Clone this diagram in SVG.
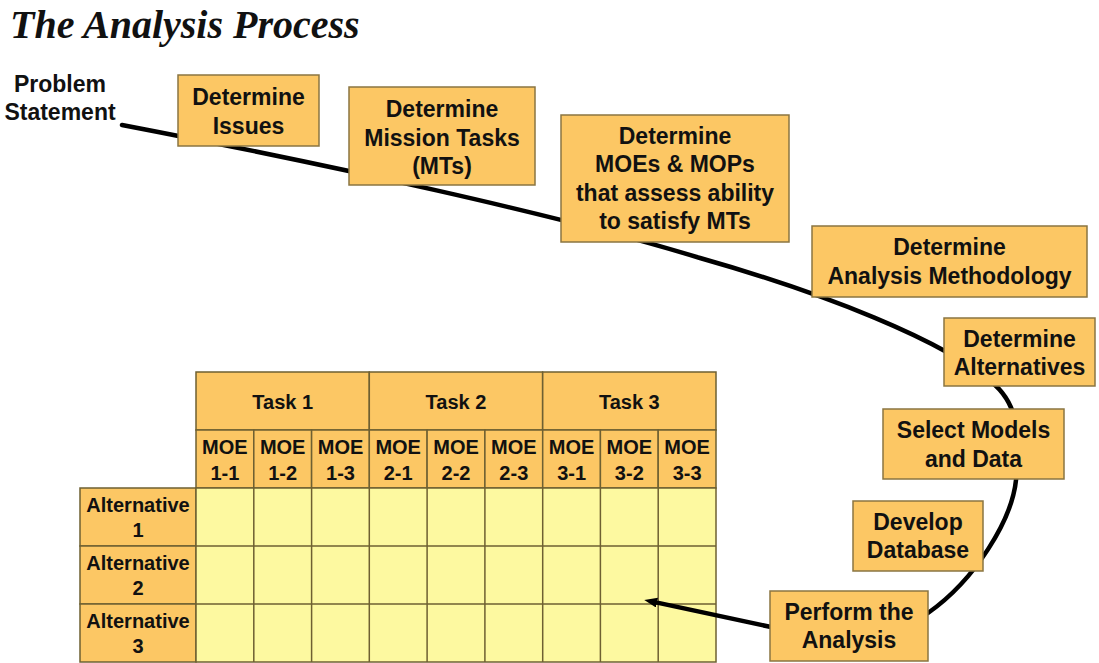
<svg xmlns="http://www.w3.org/2000/svg" width="1099" height="663" viewBox="0 0 1099 663">
<style>
.box{fill:#FCC764;stroke:#8a7542;stroke-width:1.5}
.bt{font-family:"Liberation Sans",Arial,sans-serif;font-weight:bold;font-size:23px;fill:#111;text-anchor:middle}
.hd{fill:#FCC764;stroke:#6e6032;stroke-width:1.5}
.cell{fill:#FDF9A0;stroke:#6e6032;stroke-width:1.5}
.tt{font-family:"Liberation Sans",Arial,sans-serif;font-weight:bold;font-size:20px;fill:#111;text-anchor:middle}
.ln{fill:none;stroke:#000;stroke-width:4.5;stroke-linecap:round}
</style>
<defs>
<marker id="ah" markerWidth="14" markerHeight="11" refX="1" refY="5" orient="auto" markerUnits="userSpaceOnUse">
<path d="M0,0 L13,5 L0,10 Z" fill="#000"/>
</marker>
</defs>
<rect width="1099" height="663" fill="#fff"/>
<text x="10" y="38" font-family="'Liberation Serif','Times New Roman',serif" font-weight="bold" font-style="italic" font-size="40" fill="#111">The Analysis Process</text>
<g id="table">
<rect class="hd" x="196" y="372" width="173.3" height="58"/>
<rect class="hd" x="369.3" y="372" width="173.3" height="58"/>
<rect class="hd" x="542.7" y="372" width="173.3" height="58"/>
<text class="tt" x="282.7" y="409">Task 1</text>
<text class="tt" x="456" y="409">Task 2</text>
<text class="tt" x="629.3" y="409">Task 3</text>
<rect class="hd" x="196" y="430" width="57.8" height="58"/>
<rect class="hd" x="253.8" y="430" width="57.8" height="58"/>
<rect class="hd" x="311.6" y="430" width="57.8" height="58"/>
<rect class="hd" x="369.3" y="430" width="57.8" height="58"/>
<rect class="hd" x="427.1" y="430" width="57.8" height="58"/>
<rect class="hd" x="484.9" y="430" width="57.8" height="58"/>
<rect class="hd" x="542.7" y="430" width="57.8" height="58"/>
<rect class="hd" x="600.4" y="430" width="57.8" height="58"/>
<rect class="hd" x="658.2" y="430" width="57.8" height="58"/>
<g class="tt">
<text x="224.9" y="454">MOE</text><text x="224.9" y="480">1-1</text>
<text x="282.7" y="454">MOE</text><text x="282.7" y="480">1-2</text>
<text x="340.5" y="454">MOE</text><text x="340.5" y="480">1-3</text>
<text x="398.2" y="454">MOE</text><text x="398.2" y="480">2-1</text>
<text x="456" y="454">MOE</text><text x="456" y="480">2-2</text>
<text x="513.8" y="454">MOE</text><text x="513.8" y="480">2-3</text>
<text x="571.6" y="454">MOE</text><text x="571.6" y="480">3-1</text>
<text x="629.3" y="454">MOE</text><text x="629.3" y="480">3-2</text>
<text x="687.1" y="454">MOE</text><text x="687.1" y="480">3-3</text>
</g>
<rect class="hd" x="80" y="488" width="116" height="58"/>
<rect class="hd" x="80" y="546" width="116" height="58"/>
<rect class="hd" x="80" y="604" width="116" height="58"/>
<g class="tt">
<text x="138" y="512">Alternative</text><text x="138" y="537">1</text>
<text x="138" y="570">Alternative</text><text x="138" y="595">2</text>
<text x="138" y="628">Alternative</text><text x="138" y="653">3</text>
</g>
<rect class="cell" x="196" y="488" width="520" height="174"/>
<path d="M253.8,488V662M311.6,488V662M369.3,488V662M427.1,488V662M484.9,488V662M542.7,488V662M600.4,488V662M658.2,488V662M196,546H716M196,604H716" stroke="#6e6032" stroke-width="1.5" fill="none"/>
</g>
<g id="connectors">
<path class="ln" d="M122,125 C330,165 560,215 700,258 C820,292 945,340 995,385 C1020,408 1020,440 1016,480 C1012,520 975,580 928,613"/>
<path d="M771,627 L656,602.4" fill="none" stroke="#000" stroke-width="4.5" marker-end="url(#ah)"/>
</g>
<g id="problem">
<text class="bt" x="60" y="92" font-size="22">Problem</text>
<text class="bt" x="60" y="120" font-size="22">Statement</text>
</g>
<g id="issues">
<rect class="box" x="178" y="75" width="141" height="71"/>
<text class="bt" x="248.5" y="105">Determine</text>
<text class="bt" x="248.5" y="134">Issues</text>
</g>
<g id="missiontasks">
<rect class="box" x="349" y="87" width="186" height="98"/>
<text class="bt" x="442" y="117">Determine</text>
<text class="bt" x="442" y="146">Mission Tasks</text>
<text class="bt" x="442" y="174">(MTs)</text>
</g>
<g id="moes">
<rect class="box" x="561" y="115" width="228" height="127"/>
<text class="bt" x="675" y="144">Determine</text>
<text class="bt" x="675" y="172">MOEs &amp; MOPs</text>
<text class="bt" x="675" y="201">that assess ability</text>
<text class="bt" x="675" y="229">to satisfy MTs</text>
</g>
<g id="methodology">
<rect class="box" x="812" y="226" width="275" height="71"/>
<text class="bt" x="949.5" y="255">Determine</text>
<text class="bt" x="949.5" y="284">Analysis Methodology</text>
</g>
<g id="alternatives">
<rect class="box" x="944" y="318" width="151" height="68"/>
<text class="bt" x="1019.5" y="347">Determine</text>
<text class="bt" x="1019.5" y="375">Alternatives</text>
</g>
<g id="models">
<rect class="box" x="883" y="409" width="181" height="70"/>
<text class="bt" x="973.5" y="438">Select Models</text>
<text class="bt" x="973.5" y="467">and Data</text>
</g>
<g id="database">
<rect class="box" x="853" y="501" width="130" height="70"/>
<text class="bt" x="918" y="530">Develop</text>
<text class="bt" x="918" y="558">Database</text>
</g>
<g id="perform">
<rect class="box" x="770" y="591" width="158" height="70"/>
<text class="bt" x="849" y="620">Perform the</text>
<text class="bt" x="849" y="648">Analysis</text>
</g>
</svg>
